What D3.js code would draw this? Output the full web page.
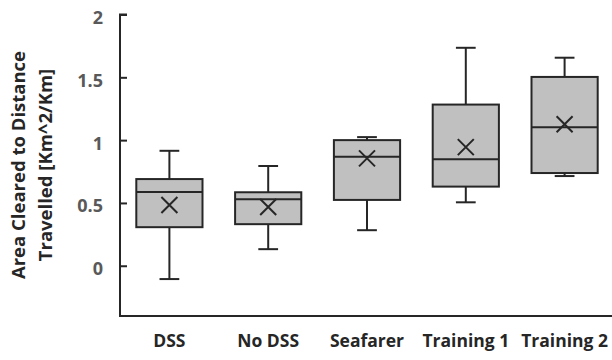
<!DOCTYPE html>
<html><head><meta charset="utf-8">
<script src="https://cdn.jsdelivr.net/npm/d3@7"></script>
<style>body{margin:0;background:#fff}svg{display:block}</style>
</head><body>
<svg id="c" width="612" height="360"></svg>
<script>
const categories = ["DSS", "No DSS", "Seafarer", "Training 1", "Training 2"];
const whiskerLow  = [-0.106, 0.132, 0.283, 0.505, 0.714];
const q1          = [0.307, 0.331, 0.524, 0.630, 0.738];
const median      = [0.587, 0.529, 0.868, 0.847, 1.103];
const q3          = [0.690, 0.585, 1.000, 1.283, 1.503];
const whiskerHigh = [0.915, 0.794, 1.024, 1.735, 1.656];
const mean        = [0.484, 0.468, 0.855, 0.944, 1.127];
const yTicks      = [0, 0.5, 1, 1.5, 2];
const yTitle      = ["Area Cleared to Distance", "Travelled [Km^2/Km]"];

const svg = d3.select("#c");
const font = "'Open Sans', sans-serif";
const ink = "#262626";

const x = d3.scaleBand().domain(categories).range([120, 614]).paddingInner(0).paddingOuter(0);
const y = d3.scaleLinear().domain([-0.4, 2]).range([316, 14.5]);

const data = categories.map((c, i) => ({c, lo: whiskerLow[i], q1: q1[i], med: median[i], q3: q3[i], hi: whiskerHigh[i], mean: mean[i]}));

// Y axis
const yAxis = d3.axisRight(y).tickValues(yTicks).tickSize(7).tickFormat(d3.format("~g"));
const ga = svg.append("g").attr("transform", "translate(120,0)").call(yAxis);
ga.select(".domain").attr("stroke", ink).attr("stroke-width", 2).attr("d", `M7,${y(2)}H0V${y(-0.4)}`);
ga.selectAll(".tick line").attr("stroke", ink).attr("stroke-width", 2);
ga.selectAll(".tick text").attr("x", -17).attr("text-anchor", "end").attr("dy", "0.5em")
  .attr("fill", "#595959").style("font", `bold 18px ${font}`);

// X axis line
svg.append("line").attr("x1", 119).attr("x2", 612).attr("y1", y(-0.4)).attr("y2", y(-0.4))
  .attr("stroke", ink).attr("stroke-width", 2);

// Category labels
svg.append("g").selectAll("text").data(categories).join("text")
  .attr("x", d => x(d) + x.bandwidth() / 2).attr("y", 347)
  .attr("text-anchor", "middle").attr("fill", ink)
  .style("font", `bold 17.5px ${font}`).text(d => d);

// Boxes
const bw = x.bandwidth() * 0.67;
const cw = x.bandwidth() * 0.2;
const g = svg.append("g").selectAll("g").data(data).join("g")
  .attr("transform", d => `translate(${x(d.c) + x.bandwidth() / 2},0)`);
const st = sel => sel.attr("stroke", ink).attr("stroke-width", 2);
g.append("line").attr("x1", 0).attr("x2", 0).attr("y1", d => y(d.q3)).attr("y2", d => y(d.hi)).call(st);
g.append("line").attr("x1", 0).attr("x2", 0).attr("y1", d => y(d.q1)).attr("y2", d => y(d.lo)).call(st);
g.append("line").attr("x1", -cw / 2).attr("x2", cw / 2).attr("y1", d => y(d.hi)).attr("y2", d => y(d.hi)).call(st);
g.append("line").attr("x1", -cw / 2).attr("x2", cw / 2).attr("y1", d => y(d.lo)).attr("y2", d => y(d.lo)).call(st);
g.append("rect").attr("x", -bw / 2).attr("width", bw)
  .attr("y", d => y(d.q3)).attr("height", d => y(d.q1) - y(d.q3))
  .attr("fill", "#c0c0c0").call(st);
g.append("line").attr("x1", -bw / 2).attr("x2", bw / 2).attr("y1", d => y(d.med)).attr("y2", d => y(d.med)).call(st);
const m = 8;
g.append("path").attr("d", d => `M${-m},${y(d.mean) - m}L${m},${y(d.mean) + m}M${m},${y(d.mean) - m}L${-m},${y(d.mean) + m}`)
  .attr("fill", "none").call(st);

// Y title
const t = svg.append("text").attr("transform", "translate(0,165) rotate(-90)")
  .attr("text-anchor", "middle").attr("fill", ink).style("font", `bold 18.5px ${font}`);
t.selectAll("tspan").data(yTitle).join("tspan")
  .attr("x", 0).attr("y", (d, i) => 25 + i * 27).text(d => d);
</script>
</body></html>
